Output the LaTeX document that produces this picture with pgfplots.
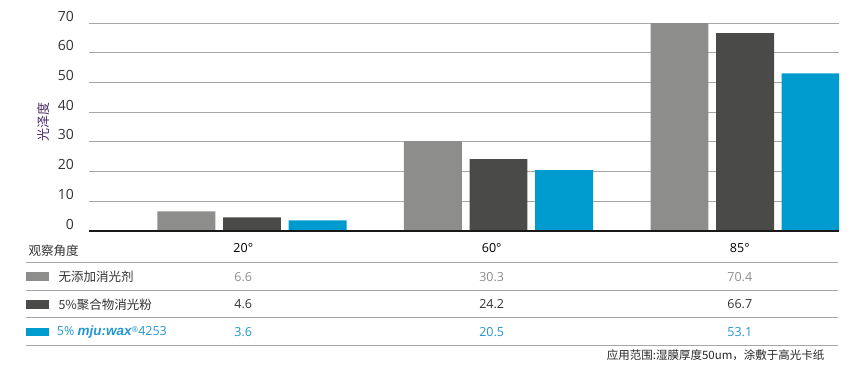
\documentclass[border=0pt]{standalone}
\usepackage{pgfplots}
\pgfplotsset{compat=1.18}
\usepackage{fontspec}
\setmainfont{Open Sans}
\newfontfamily\cjk{Noto Sans CJK SC}
\newfontfamily\logofont{Liberation Sans}
\definecolor{cgray}{HTML}{8D8D8B}
\definecolor{cdark}{HTML}{4A4A48}
\definecolor{cblue}{HTML}{009BCE}
\definecolor{tgray}{HTML}{8C8C8C}
\definecolor{tdark}{HTML}{333333}
\definecolor{tblue}{HTML}{2496D2}
\definecolor{gridc}{HTML}{A6A6A6}
\definecolor{ylab}{HTML}{4B2D66}
\begin{document}
\begin{tikzpicture}[x=1pt,y=1pt]
\useasboundingbox (0,0) rectangle (867,-371);
\begin{axis}[at={(89pt,-231pt)}, anchor=south west, scale only axis,
  width=750pt, height=207.7pt,
  xmin=-0.661, xmax=2.381, ymin=0, ymax=70, enlargelimits=false,
  axis line style={draw=none}, xtick=\empty, ytick={0,10,...,70},
  major tick length=0pt,
  ymajorgrids, grid style={gridc, line width=1pt},
  yticklabel style={font=\fontsize{14}{14}\selectfont, text=tdark, anchor=east,
    inner sep=0pt, xshift=-15pt, yshift=7pt,
    /pgf/number format/assume math mode=true},
]
\addplot[ybar, bar width=0.235, bar shift=-0.266, fill=cgray, draw=none]
  coordinates {(0,6.6) (1,30.3) (2,70.4)};
\addplot[ybar, bar width=0.235, bar shift=0, fill=cdark, draw=none]
  coordinates {(0,4.6) (1,24.2) (2,66.7)};
\addplot[ybar, bar width=0.235, bar shift=0.266, fill=cblue, draw=none]
  coordinates {(0,3.6) (1,20.5) (2,53.1)};
\end{axis}
\draw[line width=2pt, black!90] (89,-231) -- (839,-231);
\node[rotate=90, text=ylab, font=\cjk\fontsize{13}{13}\selectfont] at (43.3,-122.5) {光泽度};
% table
\foreach \yy in {262.5,290.5,317.5,345.5} {\draw[gridc, line width=1pt] (26,-\yy) -- (838,-\yy);}
\node[anchor=west, inner sep=0pt, text=tdark, font=\cjk\fontsize{12.5}{12.5}\selectfont] at (28.5,-250.7) {观察角度};
\foreach \xx/\lab in {243.3/20°,491.7/60°,739.8/85°}
  {\node[inner sep=0pt, text=black, font=\fontsize{12.5}{12.5}\selectfont] at (\xx,-247.7) {\lab};}
\fill[cgray] (26,-272.3) rectangle (49.3,-280.7);
\fill[cdark] (26,-300.1) rectangle (49.3,-308.5);
\fill[cblue] (26,-327.5) rectangle (49.3,-335.9);
\node[anchor=west, inner sep=0pt, text=tdark, font=\cjk\fontsize{12.5}{12.5}\selectfont] at (58.3,-276.5) {无添加消光剂};
\node[anchor=west, inner sep=0pt, text=tdark, font=\cjk\fontsize{12.5}{12.5}\selectfont] at (58.3,-304.3) {5\%聚合物消光粉};
\node[anchor=west, inner sep=0pt, text=tblue, font=\fontsize{12.5}{12.5}\selectfont] at (56.7,-331.7)
  {5\% {\logofont\bfseries\itshape\fontsize{13.5}{13.5}\selectfont mju:wax}\raisebox{3pt}{\fontsize{8}{8}\selectfont ®}4253};
\foreach \xx/\a/\b/\c in {243.3/6.6/4.6/3.6, 491.7/30.3/24.2/20.5, 739.8/70.4/66.7/53.1} {
  \node[inner sep=0pt, text=tgray, font=\fontsize{12.5}{12.5}\selectfont] at (\xx,-276.7) {\a};
  \node[inner sep=0pt, text=tdark, font=\fontsize{12.5}{12.5}\selectfont] at (\xx,-304.3) {\b};
  \node[inner sep=0pt, text=tblue, font=\fontsize{12.5}{12.5}\selectfont] at (\xx,-331.7) {\c};
}
\node[anchor=west, inner sep=0pt, text=black!85, font=\cjk\fontsize{11.5}{11.5}\selectfont] at (606.7,-355) {应用范围:湿膜厚度50um，涂敷于高光卡纸};
\end{tikzpicture}
\end{document}
